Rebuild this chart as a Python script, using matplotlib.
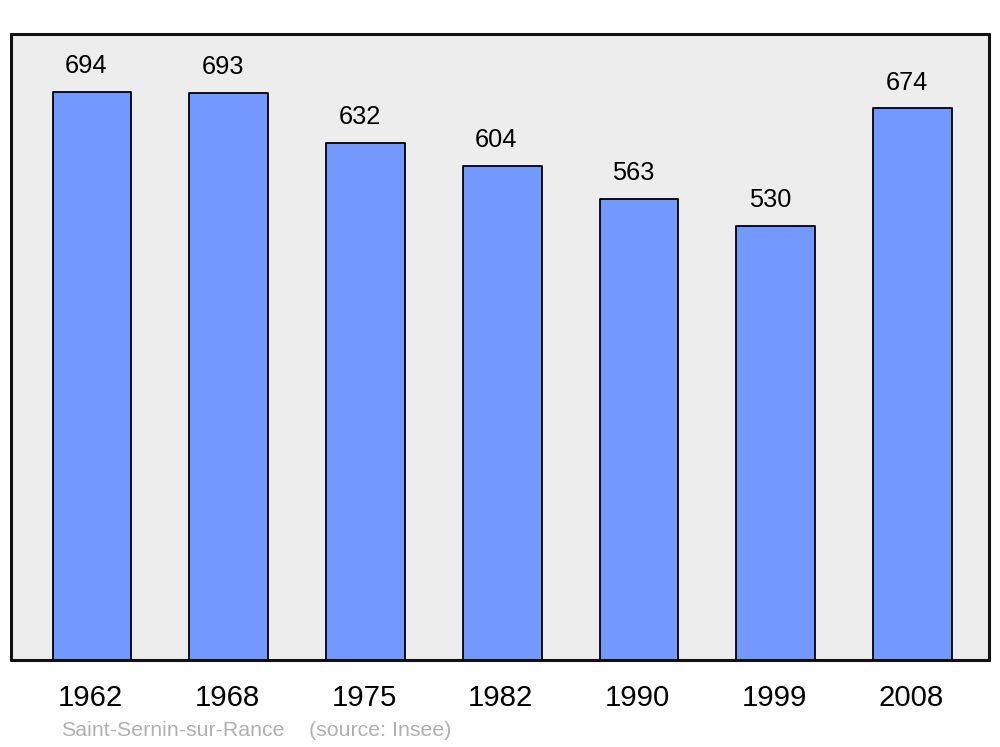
import matplotlib
matplotlib.use("Agg")
import matplotlib.pyplot as plt

years = ["1962", "1968", "1975", "1982", "1990", "1999", "2008"]
population = [694, 693, 632, 604, 563, 530, 674]
place = "Saint-Sernin-sur-Rance"
source = "(source: Insee)"

plt.rcParams['font.family'] = ['Liberation Sans', 'DejaVu Sans']

fig = plt.figure(figsize=(10, 7.47), dpi=100)
ax = fig.add_axes([11/1000, 87/747, 978/1000, 626/747])
ax.set_facecolor('#ededed')

x = list(range(len(years)))
bars = ax.bar(x, population, width=0.575, color='#7399ff', edgecolor='black',
              linewidth=1.3, zorder=3)
for b in bars:
    b.set_joinstyle('round')

for xi, v in zip(x, population):
    ax.annotate(str(v), (xi, v), xytext=(-4.3, 18.6), textcoords='offset points',
                ha='center', va='center', fontsize=18.3, color='black')

ax.set_xlim(-0.592, 6.559)
ax.set_ylim(0, 765)
ax.set_xticks(x)
ax.set_xticklabels(years, fontsize=21.2)
ax.tick_params(axis='x', length=0, pad=17)
ax.set_yticks([])
for lbl in ax.get_xticklabels():
    lbl.set_transform(lbl.get_transform() + matplotlib.transforms.ScaledTranslation(-1.5/100, 0, fig.dpi_scale_trans))

for s in ax.spines.values():
    s.set_linewidth(2.2)
    s.set_color('#111111')
    s.set_capstyle('round')
    s.set_joinstyle('round')

fig.text(61/1000, 1 - 730.5/747, place, fontsize=15.4, color='#b0b0b0',
         ha='left', va='center')
fig.text(309/1000, 1 - 730.5/747, source, fontsize=15.4, color='#b0b0b0',
         ha='left', va='center')

fig.savefig('out.png', dpi=100)
